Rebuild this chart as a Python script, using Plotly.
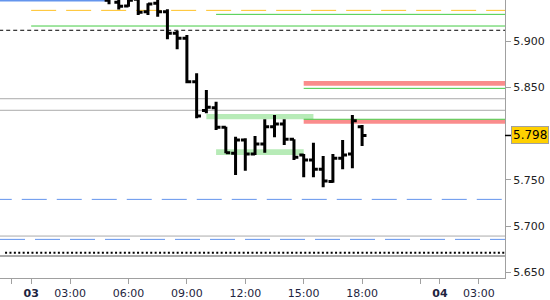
import plotly.graph_objects as go

# ---- data ----
bar_hours = [5.0, 5.5, 6.0, 6.5, 7.0, 7.5, 8.0, 8.5, 9.0, 9.5, 10.0, 10.5, 11.0, 11.5,
             12.0, 12.5, 13.0, 13.5, 14.0, 14.5, 15.0, 15.5, 16.0, 16.5, 17.0, 17.5, 18.0]
opens = [5.944, 5.942, 5.9378, 5.945, 5.9316, 5.9407, 5.9316, 5.9083, 5.9029, 5.856,
         5.8250, 5.828, 5.8068, 5.7787, 5.7931, 5.778, 5.7888, 5.8075, 5.8104, 5.7938,
         5.7769, 5.7715, 5.7614, 5.7484, 5.7733, 5.778, 5.8075]
highs = [5.952, 5.948, 5.947, 5.948, 5.9407, 5.946, 5.9342, 5.9111, 5.9065, 5.8651,
         5.8471, 5.8344, 5.8075, 5.7967, 5.7949, 5.7974, 5.8154, 5.8201, 5.8154, 5.7938,
         5.778, 5.7902, 5.7758, 5.778, 5.7931, 5.8201, 5.8093]
lows = [5.9396, 5.934, 5.937, 5.928, 5.928, 5.9262, 5.9018, 5.891, 5.8543, 5.8165,
        5.8219, 5.8039, 5.7787, 5.7553, 5.760, 5.7769, 5.7794, 5.796, 5.7877, 5.7715,
        5.7528, 5.7528, 5.742, 5.747, 5.7614, 5.7625, 5.7866]
closes = [5.946, 5.9376, 5.944, 5.931, 5.940, 5.9316, 5.9083, 5.9029, 5.856, 5.819,
          5.8284, 5.8068, 5.7794, 5.7931, 5.778, 5.7888, 5.8075, 5.8104, 5.7938, 5.7744,
          5.7715, 5.7614, 5.7488, 5.7733, 5.7769, 5.8139, 5.798]
last_price = 5.798

# horizontal levels: value, start hour, end hour
level_values = [5.9438, 5.9331, 5.9288, 5.9162, 5.9116, 5.8377, 5.8252, 5.8489, 5.8155,
                5.7290, 5.6894, 5.6858, 5.6714, 5.6678]
level_starts = [-1.0, 1.0, 10.5, 1.0, -1.0, -1.0, -1.0, 15.0, 15.0,
                -1.28, -1.0, -0.6, -0.34, -1.0]
level_ends = [5.0, 27, 27, 27, 27, 27, 27, 27, 27, 26.8, 27, 27, 27, 27]
level_colors = ["#6495ED", "#FFC125", "#44CC44", "#44CC44", "#000000", "#AAAAAA", "#AAAAAA",
                "#44CC44", "#44CC44", "#6495ED", "#AAAAAA", "#6495ED", "#000000", "#AAAAAA"]
level_widths = [2, 1, 1, 1, 1, 1, 1, 1, 1, 1, 1, 1, 2, 2]
level_dashes = ["solid", "25px,10px", "solid", "solid", "4px,3px", "solid", "solid",
                "solid", "solid", "25px,10px", "solid", "25px,10px", "2px,2.4px", "solid"]

# zones: low value, high value, start hour, end hour
zone_lows = [5.8155, 5.7769, 5.8517, 5.8107]
zone_highs = [5.8212, 5.7830, 5.8568, 5.8152]
zone_starts = [10.0, 10.5, 15.0, 15.0]
zone_ends = [15.5, 15.0, 27, 27]
zone_colors = ["#B7EBB7", "#B7EBB7", "#FA8C8C", "#FA8C8C"]

x_tick_vals = [0, 1, 3, 6, 9, 12, 15, 18, 21, 22, 24]
x_tick_text = ["", "<b>03</b>", "03:00", "06:00", "09:00", "12:00", "15:00", "18:00",
               "", "<b>04</b>", "03:00"]
y_tick_vals = [5.650, 5.700, 5.750, 5.850, 5.900]

x_range = [-0.6, 25.34]
y_range = [5.6441, 5.9443]

FONT = "DejaVu Sans"

fig = go.Figure()
fig.add_trace(go.Ohlc(
    x=bar_hours, open=opens, high=highs, low=lows, close=closes,
    increasing=dict(line=dict(color="black", width=3)),
    decreasing=dict(line=dict(color="black", width=3)),
    tickwidth=0.45, hoverinfo="skip", showlegend=False,
))

shapes = []
for lo, hi, x0, x1, c in zip(zone_lows, zone_highs, zone_starts, zone_ends, zone_colors):
    shapes.append(dict(type="rect", xref="x", yref="y", x0=x0, x1=x1, y0=lo, y1=hi,
                       fillcolor=c, line=dict(width=0), layer="below"))
for v, x0, x1, c, w, d in zip(level_values, level_starts, level_ends, level_colors,
                              level_widths, level_dashes):
    shapes.append(dict(type="line", xref="x", yref="y", x0=x0, x1=x1, y0=v, y1=v,
                       line=dict(color=c, width=w, dash=d), layer="below"))
# price marker tick on the axis
shapes.append(dict(type="line", xref="paper", yref="y", x0=1.0, x1=1.0 + 6 / 505,
                   y0=last_price, y1=last_price, line=dict(color="black", width=1.5)))

fig.update_layout(
    width=550, height=300,
    margin=dict(l=0, r=45, t=0, b=22),
    paper_bgcolor="white", plot_bgcolor="white",
    shapes=shapes,
    showlegend=False,
    font=dict(family=FONT, size=11, color="#222222"),
    xaxis=dict(range=x_range, rangeslider=dict(visible=False), showgrid=False,
               zeroline=False, showline=True, linecolor="#A0A0A0", linewidth=1,
               ticks="outside", ticklen=5, tickcolor="#A0A0A0",
               tickmode="array", tickvals=x_tick_vals, ticktext=x_tick_text,
               tickfont=dict(family=FONT, size=11, color="#1E2440")),
    yaxis=dict(range=y_range, side="right", showgrid=False, zeroline=False,
               showline=True, linecolor="#A0A0A0", linewidth=1,
               ticks="outside", ticklen=5, tickcolor="#A0A0A0",
               tickmode="array", tickvals=y_tick_vals, tickformat=".3f",
               tickfont=dict(family=FONT, size=11, color="#222222")),
    annotations=[dict(xref="paper", yref="y", x=1.0, y=last_price, xanchor="left",
                      yanchor="middle", xshift=6, text=f"{last_price:.3f}",
                      showarrow=False, bgcolor="#FFD000", bordercolor="#A0A0A0",
                      borderwidth=1, borderpad=1,
                      font=dict(family=FONT, size=12, color="black"))],
)

fig.write_html("out.html")
